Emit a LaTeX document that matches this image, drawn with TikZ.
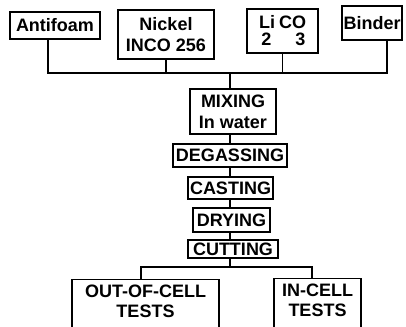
\documentclass[tikz,border=0pt]{standalone}
\usepackage{fontspec}
\setmainfont{Liberation Sans}
\usepackage{tikz}
\usetikzlibrary{positioning}

\begin{document}
\begin{tikzpicture}[
  x=1pt, y=-1pt,
  stage/.style={draw, line width=1.1pt, inner sep=0.5pt, align=center,
    font=\fontsize{18}{21}\selectfont\bfseries},
  test/.style={stage, anchor=north, inner ysep=5pt, text depth=12pt,
    font=\fontsize{18}{20}\selectfont\bfseries},
  link/.style={line width=1.1pt}
]
  \useasboundingbox (0,0) rectangle (406,326);
  \clip (0,0) rectangle (406,326);
  % ingredients
  \node[stage, minimum width=90pt, minimum height=27pt] (antifoam) at (55,25.5) {Antifoam};
  \node[stage, minimum width=96pt, minimum height=49pt] (nickel) at (166,34.5) {Nickel\\INCO 256};
  \node[stage, minimum width=71pt, minimum height=44pt] (lico) at (282.5,31)
    {Li\hspace{4pt}CO\\[-4pt]\hspace{2pt}2\hspace{24pt}3};
  \node[stage, minimum width=60pt, minimum height=34pt] (binder) at (372,23) {Binder};
  \coordinate (bus) at (230,73);
  % process chain
  \node[stage, minimum width=86pt, minimum height=45pt] (mixing) at (233,111.5) {MIXING\\In water};
  \node[stage, minimum width=114pt, minimum height=23pt] (degas) at (230,155.5) {DEGASSING};
  \node[stage, minimum width=85pt, minimum height=22pt] (casting) at (230.5,188) {CASTING};
  \node[stage, minimum width=77pt, minimum height=24pt] (drying) at (231.5,220) {DRYING};
  \node[stage, minimum width=90pt, minimum height=18pt] (cutting) at (233,249) {CUTTING};
  \coordinate (split) at (230,267);
  % tests
  \node[test, minimum width=147pt] (outcell) at (145.5,279) {OUT-OF-CELL\\TESTS};
  \node[test, minimum width=87pt] (incell) at (317.5,278) {IN-CELL\\TESTS};

  \draw[link] ([xshift=-7pt]antifoam.south) |- (bus) -| ([xshift=15pt]binder.south);
  \draw[link] (nickel.south) -- (nickel.south |- bus);
  \draw[link] (lico.south) -- (lico.south |- bus);
  \draw[link] (bus) -- (bus |- mixing.north);
  \draw[link] (bus |- mixing.south) -- (bus |- degas.north);
  \draw[link] (bus |- degas.south) -- (bus |- casting.north);
  \draw[link] (bus |- casting.south) -- (bus |- drying.north);
  \draw[link] (bus |- drying.south) -- (bus |- cutting.north);
  \draw[link] (bus |- cutting.south) -- (split);
  \draw[link] ([xshift=-4.5pt]outcell.north) |- (split) -| ([xshift=-5.5pt]incell.north);
\end{tikzpicture}
\end{document}
